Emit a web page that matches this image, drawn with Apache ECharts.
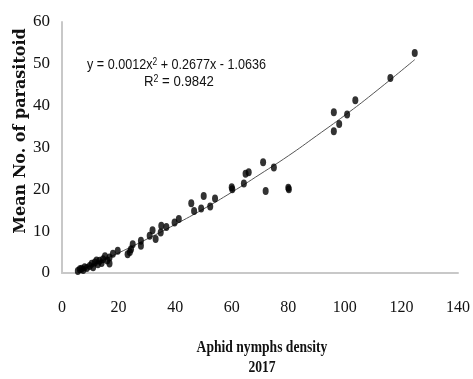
<!DOCTYPE html>
<html>
<head>
<meta charset="utf-8">
<script src="https://cdn.jsdelivr.net/npm/echarts@6/dist/echarts.min.js"></script>
<style>html,body{margin:0;padding:0;background:#fff}#c{width:473px;height:379px}</style>
</head>
<body>
<div id="c"></div>
<script>
// Observed data: aphid nymph density (x) vs mean number of parasitoids (y)
const densityX = [5.6, 6.3, 6.9, 7.5, 8.0, 8.8, 9.8, 10.5, 11.0, 11.6, 12.2, 12.7, 13.3, 14.0, 14.5, 15.2, 16.0, 16.8, 16.8, 18.0, 19.7,
  23.2, 24.0, 24.4, 25.0, 27.9, 27.9, 31.0, 32.0, 33.1, 34.9, 35.1, 36.9, 39.8, 41.3,
  45.7, 46.7, 49.2, 50.1, 52.4, 54.1, 60.0, 60.2, 64.3, 64.9, 66.0, 71.1, 72.0, 74.9, 80.0, 80.2,
  96.1, 96.1, 98.0, 100.8, 103.7, 116.1, 124.7];
const parasitoidY = [0.5, 0.9, 1.0, 0.7, 1.4, 1.2, 1.7, 2.2, 1.4, 2.5, 3.0, 2.1, 2.9, 2.4, 3.3, 4.0, 3.0, 3.7, 2.3, 4.6, 5.3,
  4.5, 5.0, 5.7, 6.9, 7.7, 6.5, 8.9, 10.2, 8.1, 9.7, 11.3, 11.0, 12.1, 12.9,
  16.7, 14.8, 15.4, 18.4, 15.9, 17.8, 20.5, 20.0, 21.4, 23.7, 24.1, 26.5, 19.6, 25.2, 20.4, 20.0,
  33.9, 38.4, 35.6, 37.9, 41.3, 46.6, 52.6];
// Trend line
const trendX = [5.6, 10, 20, 30, 40, 50, 60, 70, 80, 90, 100, 110, 124.7];
const trendY = [0.5, 1.7, 4.8, 8.1, 11.6, 15.3, 19.3, 23.6, 28.0, 32.8, 37.7, 42.9, 51.0];
const xTicks = [0, 20, 40, 60, 80, 100, 120, 140];
const yTicks = [0, 10, 20, 30, 40, 50, 60];
const equationText = 'y = 0.0012x{s|2} + 0.2677x - 1.0636';
const r2Text = 'R{s|2} = 0.9842';
const yTitle = 'Mean No. of parasitoid';
const xTitle1 = 'Aphid nymphs density';
const xTitle2 = '2017';

const points = densityX.map((x, i) => [x, parasitoidY[i]]);
const trend = trendX.map((x, i) => [x, trendY[i]]);

const chart = echarts.init(document.getElementById('c'), null, {renderer: 'canvas'});
const sans = '"Liberation Sans", sans-serif';
chart.setOption({
  animation: false,
  backgroundColor: '#fff',
  grid: {left: 62, right: 11, top: 22, bottom: 106, containLabel: false},
  xAxis: {
    type: 'value', min: 0, max: 140, interval: 20,
    axisLine: {show: true, lineStyle: {color: '#c8c8c8', width: 2}},
    axisTick: {show: false},
    splitLine: {show: false},
    axisLabel: {margin: 27, color: '#111', fontFamily: '"Liberation Serif", serif', fontSize: 16,
      formatter: v => xTicks.includes(v) ? String(v) : ''}
  },
  yAxis: {
    type: 'value', min: 0, max: 60, interval: 10,
    axisLine: {show: true, lineStyle: {color: '#c8c8c8', width: 2}},
    axisTick: {show: false},
    splitLine: {show: false},
    axisLabel: {margin: 12, color: '#111', fontFamily: '"Liberation Serif", serif', fontSize: 17,
      formatter: v => yTicks.includes(v) ? String(v) : ''}
  },
  graphic: [
    {type: 'text', x: 87, y: 57, scaleX: 0.84, style: {text: equationText, fill: '#111', font: '15px ' + sans,
      rich: {s: {fontSize: 10, fontFamily: sans, verticalAlign: 'top', padding: [0,0,6,0]}}}},
    {type: 'text', x: 144, y: 74, scaleX: 0.88, style: {text: r2Text, fill: '#111', font: '15px ' + sans,
      rich: {s: {fontSize: 10, fontFamily: sans, verticalAlign: 'top', padding: [0,0,6,0]}}}},
    {type: 'text', x: 21, y: 131, rotation: Math.PI / 2, style: {text: yTitle, fill: '#111',
      font: 'bold 16px "DejaVu Serif", serif', align: 'center', verticalAlign: 'middle'}},
    {type: 'text', x: 262, y: 348, scaleX: 0.8, style: {text: xTitle1, fill: '#111',
      font: 'bold 17px "Liberation Serif", serif', align: 'center', verticalAlign: 'middle'}},
    {type: 'text', x: 262, y: 368, scaleX: 0.8, style: {text: xTitle2, fill: '#111',
      font: 'bold 17px "Liberation Serif", serif', align: 'center', verticalAlign: 'middle'}}
  ],
  series: [
    {type: 'line', data: trend, smooth: true, symbol: 'none', lineStyle: {color: '#555', width: 1}, z: 1},
    {type: 'scatter', data: points, symbol: 'circle', symbolSize: [6, 8], itemStyle: {color: '#000'}, z: 2}
  ]
});
</script>
</body>
</html>
